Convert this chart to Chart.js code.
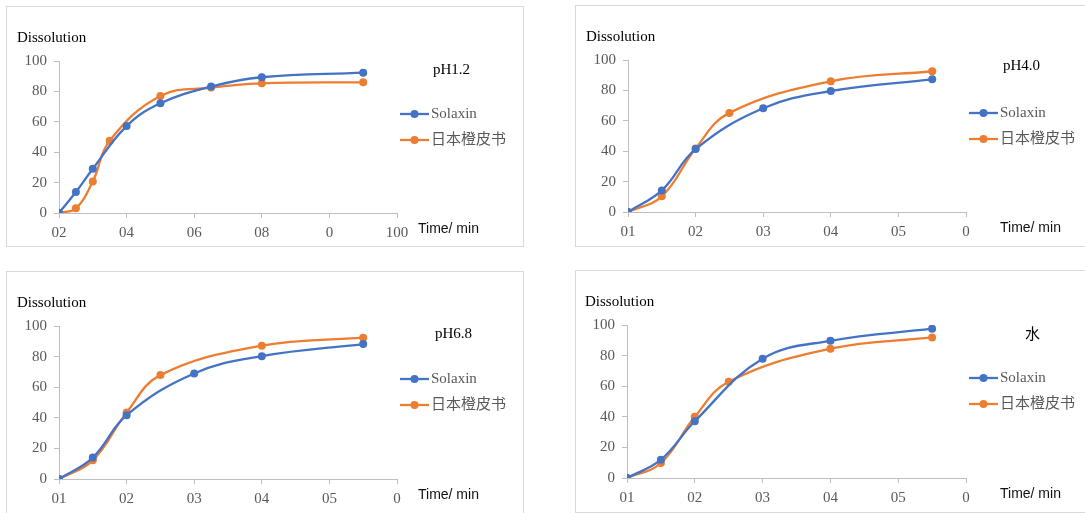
<!DOCTYPE html>
<html>
<head>
<meta charset="utf-8">
<script src="https://cdn.jsdelivr.net/npm/chart.js@4"></script>
<style>
  html, body { margin: 0; padding: 0; background: #fff; }
  body { width: 1085px; height: 513px; position: relative; overflow: hidden; }
  .panel { position: absolute; box-sizing: border-box; border: 1px solid #d9d9d9; background: #fff; }
  .panel canvas { display: block; }
</style>
</head>
<body>
<div class="panel" style="left:6px;top:6px;width:518px;height:241px"><canvas id="c1"></canvas></div>
<div class="panel" style="left:575px;top:5px;width:520px;height:242px"><canvas id="c2"></canvas></div>
<div class="panel" style="left:6px;top:271px;width:518px;height:250px"><canvas id="c3"></canvas></div>
<div class="panel" style="left:575px;top:270px;width:520px;height:243px"><canvas id="c4"></canvas></div>
<script>
// time points (min)
const solaxinTimes = [0, 5, 10, 20, 30, 45];
const jpTimes = [0, 5, 10, 15, 30, 45];
const solaxinTimesLong = [0, 5, 10, 20, 30, 45, 60, 90];
const jpTimesLong = [0, 5, 10, 15, 30, 45, 60, 90];

// dissolution (%)
const ph12Solaxin = [0, 13.8, 29.1, 57.2, 72.2, 83.2, 89.3, 92.3];
const ph12Jp = [0, 3.1, 20.8, 47.6, 77, 82.5, 85.3, 86];
const ph40Solaxin = [0, 14.2, 41.4, 68.3, 79.6, 87.3];
const ph40Jp = [0, 10.3, 41.8, 65.2, 86, 92.6];
const ph68Solaxin = [0, 14, 41.7, 69, 80.3, 88.2];
const ph68Jp = [0, 12.2, 43.4, 67.9, 87.1, 92.4];
const waterSolaxin = [0, 12, 37.1, 78, 89.7, 97.6];
const waterJp = [0, 9.8, 40, 62.9, 84.5, 91.9];

// tick labels as printed
const xLabelsLong = ['02', '04', '06', '08', '0', '100'];
const xLabelsShort = ['01', '02', '03', '04', '05', '0'];
const seriesNames = ['Solaxin', '日本橙皮书'];
const panelNames = ['pH1.2', 'pH4.0', 'pH6.8', '水'];

const BLUE = '#4472c4';
const ORANGE = '#ed7d31';
const SERIF = "'Liberation Serif', 'Times New Roman', 'Noto Sans CJK SC', serif";

function pts(xs, ys) {
    return xs.map((x, i) => ({ x: x, y: ys[i] }));
}

// draws axis titles, panel name and the legend
const decor = {
    id: 'decor',
    afterDraw(chart, args, o) {
        const ctx = chart.ctx;
        const a = chart.chartArea;
        ctx.save();
        ctx.textBaseline = 'middle';
        ctx.textAlign = 'left';
        ctx.fillStyle = '#000';
        ctx.font = '15px ' + SERIF;
        ctx.fillText('Dissolution', a.left - 42, a.top - 23);
        ctx.fillText(o.name, a.right + o.nameDx, a.top + o.nameDy);

        ctx.font = "14px 'Liberation Sans', Arial, sans-serif";
        ctx.fillStyle = '#111';
        ctx.fillText('Time/ min', o.timeX, a.bottom + 16);

        // legend
        ctx.font = '15px ' + SERIF;
        chart.data.datasets.forEach((ds, i) => {
            const y = a.top + 53 + i * 26;
            const x0 = a.right + 3;
            ctx.strokeStyle = ds.borderColor;
            ctx.lineWidth = 2.3;
            ctx.beginPath();
            ctx.moveTo(x0, y);
            ctx.lineTo(x0 + 29, y);
            ctx.stroke();
            ctx.fillStyle = ds.borderColor;
            ctx.beginPath();
            ctx.arc(x0 + 14.5, y, 4, 0, Math.PI * 2);
            ctx.fill();
            ctx.fillStyle = '#595959';
            ctx.fillText(ds.label, x0 + 31, y);
        });
        ctx.restore();
    }
};

function makeChart(id, w, h, cfg) {
    const canvas = document.getElementById(id);
    canvas.width = w;
    canvas.height = h;
    canvas.style.width = w + 'px';
    canvas.style.height = h + 'px';
    const step = cfg.xMax / 5;
    return new Chart(canvas.getContext('2d'), {
        type: 'scatter',
        data: {
            datasets: [{
                label: seriesNames[0],
                data: pts(cfg.solaxinX, cfg.solaxin),
                borderColor: BLUE,
                backgroundColor: BLUE,
                showLine: true,
                tension: 0.4,
                borderWidth: 2.3,
                pointRadius: 4,
                pointBorderWidth: 0
            }, {
                label: seriesNames[1],
                data: pts(cfg.jpX, cfg.jp),
                borderColor: ORANGE,
                backgroundColor: ORANGE,
                showLine: true,
                tension: 0.4,
                borderWidth: 2.3,
                pointRadius: 4,
                pointBorderWidth: 0
            }]
        },
        options: {
            responsive: false,
            animation: false,
            devicePixelRatio: 1,
            layout: { padding: { left: 0, top: 54, right: w - 390, bottom: 0 } },
            plugins: {
                legend: { display: false },
                tooltip: { enabled: false },
                decor: { name: cfg.name, nameDx: cfg.nameDx, nameDy: cfg.nameDy, timeX: cfg.timeX }
            },
            scales: {
                x: {
                    type: 'linear',
                    min: 0,
                    max: cfg.xMax,
                    afterFit: s => { s.height = h - cfg.bottom; },
                    ticks: {
                        stepSize: step,
                        padding: 6,
                        color: '#595959',
                        font: { family: SERIF, size: 15 },
                        maxRotation: 0,
                        callback: v => cfg.xLabels[Math.round(v / step)]
                    },
                    grid: { drawOnChartArea: false, drawTicks: true, tickLength: 5, color: '#bfbfbf' },
                    border: { color: '#bfbfbf' }
                },
                y: {
                    min: 0,
                    max: 100,
                    afterFit: s => { s.width = cfg.left; },
                    ticks: {
                        stepSize: 20,
                        padding: 7,
                        color: '#595959',
                        font: { family: SERIF, size: 15 }
                    },
                    grid: { drawOnChartArea: false, drawTicks: true, tickLength: 5, color: '#bfbfbf' },
                    border: { color: '#bfbfbf' }
                }
            }
        },
        plugins: [decor]
    });
}

makeChart('c1', 516, 239, {
    solaxinX: solaxinTimesLong, solaxin: ph12Solaxin,
    jpX: jpTimesLong, jp: ph12Jp,
    xMax: 100, xLabels: xLabelsLong, name: panelNames[0],
    left: 52, bottom: 206, nameDx: 36, nameDy: 9, timeX: 411
});
makeChart('c2', 518, 240, {
    solaxinX: solaxinTimes, solaxin: ph40Solaxin,
    jpX: jpTimes, jp: ph40Jp,
    xMax: 50, xLabels: xLabelsShort, name: panelNames[1],
    left: 52, bottom: 206, nameDx: 37, nameDy: 6, timeX: 424
});
makeChart('c3', 516, 248, {
    solaxinX: solaxinTimes, solaxin: ph68Solaxin,
    jpX: jpTimes, jp: ph68Jp,
    xMax: 50, xLabels: xLabelsShort, name: panelNames[2],
    left: 52, bottom: 207, nameDx: 38, nameDy: 8, timeX: 411
});
makeChart('c4', 518, 241, {
    solaxinX: solaxinTimes, solaxin: waterSolaxin,
    jpX: jpTimes, jp: waterJp,
    xMax: 50, xLabels: xLabelsShort, name: panelNames[3],
    left: 51, bottom: 207, nameDx: 59, nameDy: 10, timeX: 424
});
</script>
</body>
</html>
